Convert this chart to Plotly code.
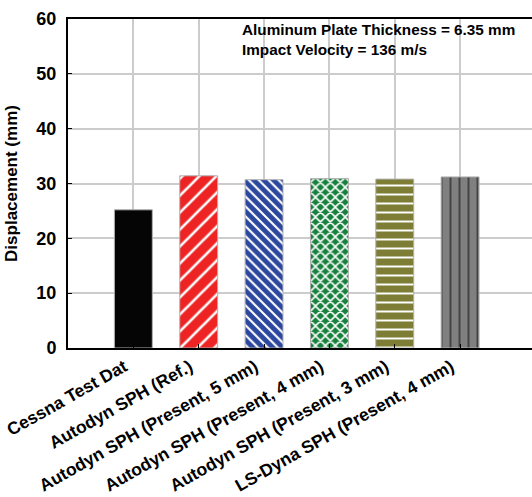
import plotly.graph_objects as go

categories = [
    "Cessna Test Dat",
    "Autodyn SPH (Ref.)",
    "Autodyn SPH (Present, 5 mm)",
    "Autodyn SPH (Present, 4 mm)",
    "Autodyn SPH (Present, 3 mm)",
    "LS-Dyna SPH (Present, 4 mm)",
]
displacement = [25.2, 31.4, 30.7, 30.9, 30.8, 31.2]
bar_colors = ["#050505", "#ee2424", "#2c479e", "#16803c", "#7d7d35", "#808080"]
hatch_shapes = ["", "/", "\\", "x", "-", "|"]
hatch_sizes = [8, 12, 7, 7, 9, 9]
hatch_solidity = [0.3, 0.22, 0.3, 0.4, 0.22, 0.22]

x_pos = list(range(len(categories)))

fig = go.Figure()
fig.add_trace(go.Bar(
    x=x_pos,
    y=displacement,
    width=0.58,
    marker=dict(
        color=bar_colors,
        line=dict(color="#b0b0b0", width=1),
        pattern=dict(
            shape=hatch_shapes,
            fgcolor="#ffffff",
            fgopacity=1,
            size=hatch_sizes,
            solidity=hatch_solidity,
            fillmode="overlay",
        ),
    ),
    showlegend=False,
))

font_family = "Liberation Sans, Arial, sans-serif"

fig.update_layout(
    width=532,
    height=497,
    margin=dict(l=68, r=0, t=19, b=149),
    plot_bgcolor="white",
    paper_bgcolor="white",
    font=dict(family=font_family, color="black"),
    xaxis=dict(
        range=[-1, 6.1],
        tickmode="array",
        tickvals=x_pos,
        ticktext=[f"<b>{c}</b>" for c in categories],
        tickangle=-29.5,
        tickfont=dict(size=17.5, family=font_family),
        ticklabelshift=-9,
        ticklabelstandoff=0,
        ticklabeloverflow="allow",
        automargin=False,
        showgrid=True,
        gridcolor="#cccccc",
        gridwidth=1.5,
        showline=True,
        linecolor="black",
        linewidth=2,
        mirror=True,
        ticks="inside",
        ticklen=4,
        tickcolor="black",
        zeroline=False,
    ),
    yaxis=dict(
        range=[0, 60],
        dtick=10,
        tickfont=dict(size=18, family=font_family),
        tickprefix="<b>",
        ticksuffix="</b>",
        ticklabelstandoff=6,
        automargin=False,
        showgrid=True,
        gridcolor="#cccccc",
        gridwidth=1.5,
        showline=True,
        linecolor="black",
        linewidth=2,
        ticks="inside",
        ticklen=4,
        tickcolor="black",
        zeroline=False,
        title=dict(text="<b>Displacement (mm)</b>", font=dict(size=17, family=font_family), standoff=14),
    ),
    annotations=[
        dict(
            text="<b>Aluminum Plate Thickness = 6.35 mm<br>Impact Velocity = 136 m/s</b>",
            xref="paper", yref="paper",
            x=(240 - 68) / 464, y=1.0,
            xanchor="left", yanchor="top",
            align="left",
            showarrow=False,
            font=dict(size=15.3, family=font_family, color="black"),
        )
    ],
)

fig.write_html("out.html")
